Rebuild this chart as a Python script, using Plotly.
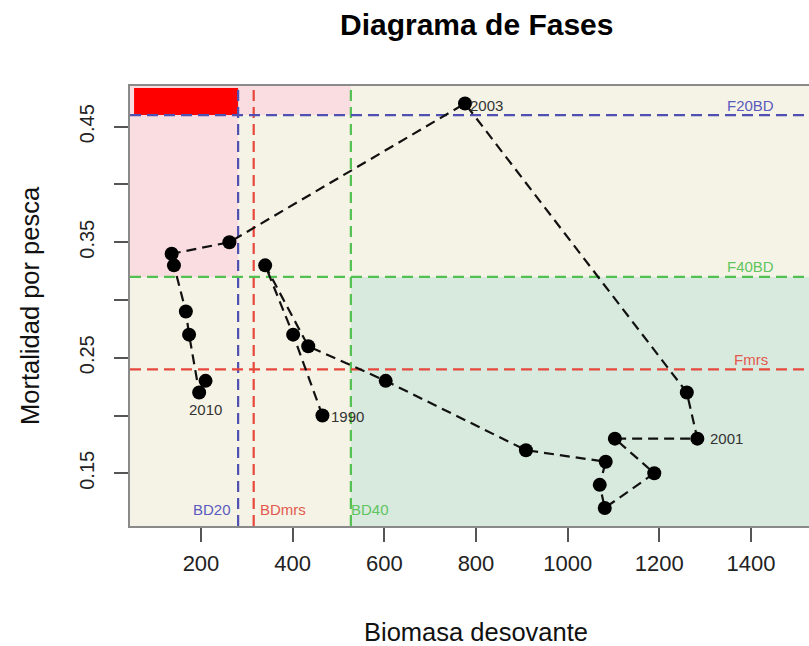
import plotly.graph_objects as go

# Serie anual: biomasa desovante vs mortalidad por pesca
anios = list(range(1990, 2011))
biomasa = [465, 401, 340, 434, 603, 909, 1083, 1070, 1081, 1189, 1103,
           1283, 1260, 776, 262, 136, 141, 167, 174, 196, 210]
mortalidad = [0.20, 0.27, 0.33, 0.26, 0.23, 0.17, 0.16, 0.14, 0.12, 0.15, 0.18,
              0.18, 0.22, 0.47, 0.35, 0.34, 0.33, 0.29, 0.27, 0.22, 0.23]

# Puntos de referencia
bd_nombres = ["BD20", "BDmrs", "BD40"]
bd_valores = [281, 315, 527]
f_nombres = ["F20BD", "F40BD", "Fmrs"]
f_valores = [0.46, 0.32, 0.24]

# Años rotulados
anios_rotulo = [1990, 2001, 2003, 2010]

x_ticks = [200, 400, 600, 800, 1000, 1200, 1400]
y_ticks = [0.15, 0.20, 0.25, 0.30, 0.35, 0.40, 0.45]
y_ticktext = ["0.15", "", "0.25", "", "0.35", "", "0.45"]

X_RANGE = [45.1, 1526.6]
Y_RANGE = [0.1044, 0.4852]

FONT = "Liberation Sans, Arial, sans-serif"
BEIGE = "#F5F3E5"
ROSA = "#F9DDE0"
ROJO = "#FF0000"
VERDE = "#D8E9DE"
colores_linea = {"azul": "#5050B2", "rojo": "#E6483D", "verde": "#52C152"}
colores_texto = {"azul": "#5A5AC0", "rojo": "#E3594E", "verde": "#5FC55F"}
col_bd = ["azul", "rojo", "verde"]
col_f = ["azul", "verde", "rojo"]

BD20, BDmrs, BD40 = bd_valores
F20BD, F40BD, Fmrs = f_valores

# Geometría de la página (px)
W, H = 809, 646
M_L, M_R, M_T, M_B = 130, 0, 86, 120
PLOT_W = W - M_L - M_R
PLOT_H = H - M_T - M_B


def px_a_paper_x(px):
    return (px - M_L) / PLOT_W


def px_a_paper_y(py):
    return (H - M_B - py) / PLOT_H


fig = go.Figure()

# Zonas del diagrama
shapes = [
    dict(type="rect", xref="x", yref="y", x0=X_RANGE[0], x1=BD20,
         y0=F40BD, y1=Y_RANGE[1], fillcolor=ROSA, line_width=0, layer="below"),
    dict(type="rect", xref="x", yref="y", x0=BD20, x1=BD40,
         y0=F20BD, y1=Y_RANGE[1], fillcolor=ROSA, line_width=0, layer="below"),
    dict(type="rect", xref="x", yref="y", x0=54, x1=BD20,
         y0=F20BD, y1=0.4835, fillcolor=ROJO, line_width=0, layer="below"),
    dict(type="rect", xref="x", yref="y", x0=BD40, x1=X_RANGE[1],
         y0=Y_RANGE[0], y1=F40BD, fillcolor=VERDE, line_width=0, layer="below"),
]

DASH = "11px,6px"
for v, c in zip(bd_valores, col_bd):
    shapes.append(dict(type="line", xref="x", yref="y", x0=v, x1=v,
                       y0=Y_RANGE[0], y1=Y_RANGE[1], layer="below",
                       line=dict(color=colores_linea[c], width=2.2, dash=DASH)))
for v, c in zip(f_valores, col_f):
    shapes.append(dict(type="line", xref="x", yref="y", x0=X_RANGE[0], x1=X_RANGE[1],
                       y0=v, y1=v, layer="below",
                       line=dict(color=colores_linea[c], width=2.2, dash=DASH)))

# Trayectoria
fig.add_trace(go.Scatter(
    x=biomasa, y=mortalidad, mode="lines+markers",
    line=dict(color="#111111", width=2.2, dash="10px,6px"),
    marker=dict(color="#000000", size=14, line=dict(width=0)),
    hoverinfo="skip", showlegend=False,
))

annotations = []
# Rótulos de las líneas de referencia
for nom, v, c in zip(f_nombres, f_valores, col_f):
    annotations.append(dict(x=1400, y=v, xref="x", yref="y", text=nom,
                            showarrow=False, yshift=10,
                            font=dict(family=FONT, size=15, color=colores_texto[c])))
bd_anchor = [("right", -5), ("left", 4), ("left", -2)]
for nom, v, c, (anc, sh) in zip(bd_nombres, bd_valores, col_bd, bd_anchor):
    annotations.append(dict(x=v, y=0.119, xref="x", yref="y", text=nom,
                            showarrow=False, xanchor=anc, xshift=sh,
                            font=dict(family=FONT, size=15, color=colores_texto[c])))

# Rótulos de años
desplaz = {1990: ("left", 7, -1), 2001: ("left", 11, 0),
           2003: ("left", 3, -2), 2010: ("center", 0, -29)}
for a in anios_rotulo:
    i = anios.index(a)
    anc, dx, dy = desplaz[a]
    annotations.append(dict(x=biomasa[i], y=mortalidad[i], xref="x", yref="y",
                            text=str(a), showarrow=False, xanchor=anc,
                            xshift=dx, yshift=dy,
                            font=dict(family=FONT, size=15, color="#333333")))

# Títulos
annotations.append(dict(x=px_a_paper_x(476), y=px_a_paper_y(25), xref="paper", yref="paper",
                        yanchor="middle", text="<b>Diagrama de Fases</b>",
                        showarrow=False, font=dict(family=FONT, size=30, color="#000000")))
annotations.append(dict(x=px_a_paper_x(476), y=px_a_paper_y(648), xref="paper", yref="paper",
                        yanchor="bottom", text="Biomasa desovante", showarrow=False,
                        font=dict(family=FONT, size=25.5, color="#111111")))
annotations.append(dict(x=px_a_paper_x(30), y=0.5, xref="paper", yref="paper",
                        xanchor="center", yanchor="middle", textangle=-90,
                        text="Mortalidad por pesca", showarrow=False,
                        font=dict(family=FONT, size=25.5, color="#111111")))

fig.update_layout(
    width=W, height=H,
    margin=dict(l=M_L, r=M_R, t=M_T, b=M_B, pad=0),
    paper_bgcolor="white", plot_bgcolor=BEIGE,
    shapes=shapes, annotations=annotations,
    xaxis=dict(range=X_RANGE, tickvals=x_ticks, ticks="outside", ticklen=14,
               tickwidth=1.5, tickcolor="#555555", showgrid=False, zeroline=False,
               showline=True, mirror=True, linecolor="#8A8A8A", linewidth=2,
               ticklabelstandoff=3,
               tickfont=dict(family=FONT, size=22, color="#222222")),
    yaxis=dict(range=Y_RANGE, tickvals=y_ticks, ticktext=y_ticktext,
               ticks="outside", ticklen=14, tickwidth=1.5, tickcolor="#555555",
               showgrid=False, zeroline=False, showline=True, mirror=False,
               linecolor="#8A8A8A", linewidth=2, tickangle=-90,
               ticklabelstandoff=12,
               tickfont=dict(family=FONT, size=20, color="#222222")),
)

fig.write_html("out.html")
